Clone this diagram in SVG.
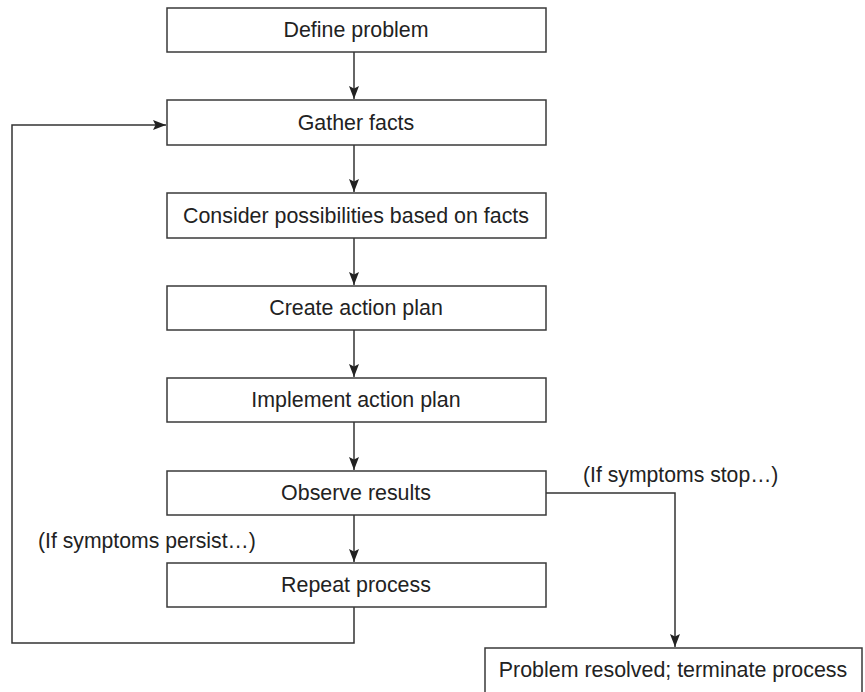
<svg xmlns="http://www.w3.org/2000/svg" width="865" height="692" viewBox="0 0 865 692">
<style>
.box{fill:#fff;stroke:#3a3a3a;stroke-width:1.5}
.lbl{font-family:"Liberation Sans",Arial,sans-serif;font-size:21.4px;fill:#222;text-anchor:middle}
.note{font-family:"Liberation Sans",Arial,sans-serif;font-size:21.2px;fill:#222}
.con{fill:none;stroke:#333;stroke-width:1.5}
</style>
<defs>
<marker id="ah" markerUnits="userSpaceOnUse" markerWidth="14" markerHeight="10" refX="13" refY="5" orient="auto">
<path d="M0,0 L13,5 L0,10 L2.5,5 Z" fill="#222"/>
</marker>
</defs>
<rect width="865" height="692" fill="#fff"/>
<g id="connectors">
<line class="con" x1="354" y1="52" x2="354" y2="99" marker-end="url(#ah)"/>
<line class="con" x1="354" y1="145" x2="354" y2="192" marker-end="url(#ah)"/>
<line class="con" x1="354" y1="238" x2="354" y2="285" marker-end="url(#ah)"/>
<line class="con" x1="354" y1="330" x2="354" y2="377" marker-end="url(#ah)"/>
<line class="con" x1="354" y1="422" x2="354" y2="470" marker-end="url(#ah)"/>
<line class="con" x1="354" y1="515" x2="354" y2="562" marker-end="url(#ah)"/>
<polyline class="con" points="354,607 354,643 12,643 12,125 166,125" marker-end="url(#ah)"/>
<polyline class="con" points="546,493 675,493 675,647" marker-end="url(#ah)"/>
</g>
<g id="define"><rect class="box" x="167" y="8" width="379" height="44"/><text class="lbl" x="356" y="37">Define problem</text></g>
<g id="gather"><rect class="box" x="167" y="100" width="379" height="45"/><text class="lbl" x="356" y="130">Gather facts</text></g>
<g id="consider"><rect class="box" x="167" y="193" width="379" height="45"/><text class="lbl" x="356" y="223">Consider possibilities based on facts</text></g>
<g id="create"><rect class="box" x="167" y="286" width="379" height="44"/><text class="lbl" x="356" y="315">Create action plan</text></g>
<g id="implement"><rect class="box" x="167" y="378" width="379" height="44"/><text class="lbl" x="356" y="407">Implement action plan</text></g>
<g id="observe"><rect class="box" x="167" y="471" width="379" height="44"/><text class="lbl" x="356" y="500">Observe results</text></g>
<g id="repeat"><rect class="box" x="167" y="563" width="379" height="44"/><text class="lbl" x="356" y="592">Repeat process</text></g>
<g id="resolved"><rect class="box" x="485" y="648" width="377" height="60"/><text class="lbl" x="673" y="677">Problem resolved; terminate process</text></g>
<g id="notes">
<text class="note" x="583" y="482">(If symptoms stop…)</text>
<text class="note" x="38" y="548">(If symptoms persist…)</text>
</g>
</svg>
